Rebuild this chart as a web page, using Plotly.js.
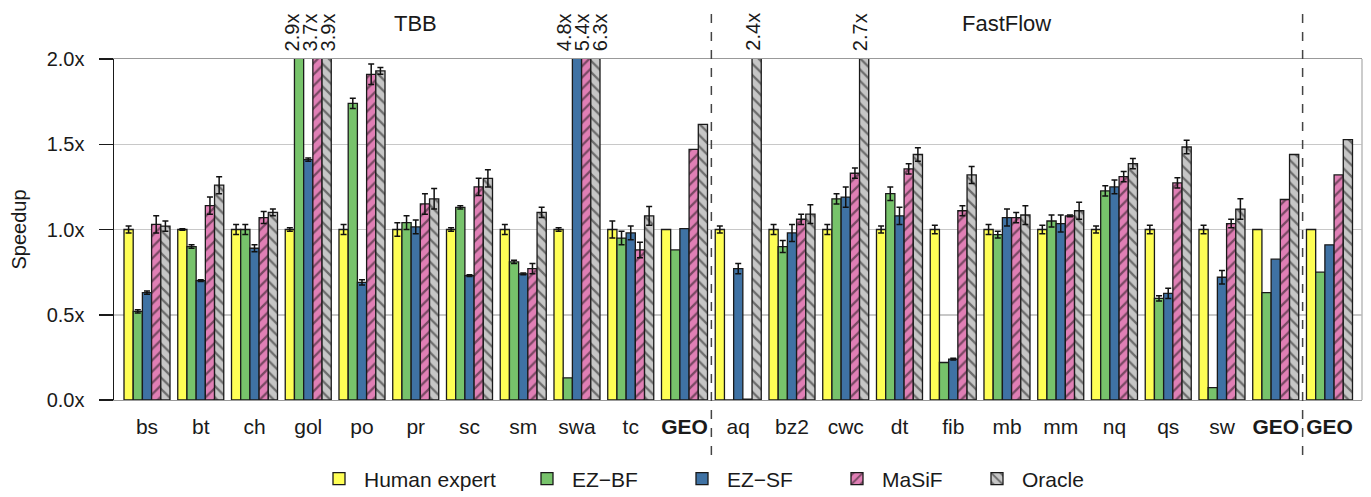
<!DOCTYPE html>
<html>
<head>
<meta charset="utf-8">
<script src="https://cdn.plot.ly/plotly-3.0.1.min.js"></script>
<style>html,body{margin:0;padding:0;background:#fff;}#chart{width:1371px;height:497px;}</style>
</head>
<body>
<div id="chart"></div>
<script>
// ---- data ----
const categories = ['bs','bt','ch','gol','po','pr','sc','sm','swa','tc','GEO','aq','bz2','cwc','dt','fib','mb','mm','nq','qs','sw','GEO','GEO'];
const seriesNames = ['Human expert','EZ\u2212BF','EZ\u2212SF','MaSiF','Oracle'];
const humanExpert = [1,1,1,1,1,1,1,1,1,1,1,1,1,1,1,1,1,1,1,1,1,1,1];
const humanExpertErr = [0.02,0.005,0.03,0.01,0.03,0.04,0.01,0.03,0.01,0.05,NaN,0.02,0.03,0.03,0.02,0.025,0.03,0.025,0.02,0.025,0.025,NaN,NaN];
const ezBF = [0.52,0.90,1.00,2.9,1.74,1.04,1.13,0.81,0.13,0.95,0.88,0.0,0.90,1.18,1.21,0.22,0.97,1.05,1.226,0.596,0.072,0.63,0.75];
const ezBFErr = [0.01,0.01,0.03,NaN,0.03,0.04,0.01,0.01,NaN,0.04,NaN,NaN,0.035,0.03,0.04,NaN,0.02,0.035,0.03,0.015,NaN,NaN,NaN];
const ezSF = [0.63,0.70,0.89,1.41,0.69,1.015,0.73,0.74,4.8,0.98,1.005,0.77,0.98,1.19,1.08,0.24,1.07,1.035,1.25,0.625,0.72,0.826,0.91];
const ezSFErr = [0.01,0.005,0.02,0.01,0.015,0.04,0.005,0.005,NaN,0.04,NaN,0.03,0.05,0.06,0.05,0.005,0.05,0.05,0.04,0.03,0.04,NaN,NaN];
const masif = [1.03,1.14,1.07,3.7,1.91,1.15,1.25,0.77,5.4,0.88,1.47,0.005,1.06,1.33,1.355,1.11,1.07,1.08,1.31,1.273,1.035,1.176,1.32];
const masifErr = [0.05,0.05,0.035,NaN,0.06,0.06,0.05,0.03,NaN,0.045,NaN,NaN,0.03,0.03,0.03,0.03,0.03,0.005,0.03,0.03,0.025,NaN,NaN];
const oracle = [1.02,1.26,1.10,3.9,1.93,1.18,1.30,1.10,6.3,1.08,1.617,2.4,1.09,2.7,1.44,1.32,1.085,1.11,1.386,1.484,1.12,1.44,1.527];
const oracleErr = [0.03,0.05,0.02,NaN,0.02,0.06,0.05,0.03,NaN,0.055,NaN,NaN,0.055,NaN,0.04,0.05,0.055,0.05,0.03,0.04,0.06,NaN,NaN];
const yTickVals = [0,0.5,1,1.5,2];
const yTickText = ['0.0x','0.5x','1.0x','1.5x','2.0x'];
const sectionLabels = ['TBB','FastFlow'];

// ---- styling ----
const FONT = 'Liberation Sans, Arial, Helvetica, sans-serif';
const colors = ['#ffff55','#77c36b','#3f72a4','#e07fb5','#c6c6c6'];
const patterns = ['', '', '', '/', '\\'];
const values = [humanExpert, ezBF, ezSF, masif, oracle];
const errs = [humanExpertErr, ezBFErr, ezSFErr, masifErr, oracleErr];
const BARGAP = 0.144;
const YMAX = 2;
const XRANGE = [-0.614, 22.605];
const ML = 114, MR = 9, W = 1371, H = 497;
const PLOTW = W - ML - MR;
const pxPerUnit = PLOTW / (XRANGE[1] - XRANGE[0]);
const legendSymbolPx = [337, 545, 700, 855, 995];
const legendNames = ['legend', 'legend2', 'legend3', 'legend4', 'legend5'];

const xIdx = categories.map((_, i) => i);
const traces = values.map((v, k) => ({
  type: 'bar',
  name: seriesNames[k],
  legend: legendNames[k],
  x: xIdx,
  y: v,
  marker: {
    color: colors[k],
    line: {color: '#1a1a1a', width: 1.3},
    pattern: patterns[k] ? {shape: patterns[k], fgcolor: '#111', bgcolor: colors[k], size: 8, solidity: 0.28, fillmode: 'overlay'} : undefined
  },
  error_y: {type: 'data', array: errs[k], visible: true, color: '#111', thickness: 1.5, width: 3},
  hoverinfo: 'skip'
}));

// labels for bars beyond axis max (spread apart when several in one group)
const w = (1 - BARGAP) / values.length;
const annotations = [];
categories.forEach((c, i) => {
  const over = [];
  values.forEach((v, k) => { if (v[i] > YMAX) over.push(k); });
  if (!over.length) return;
  const barX = over.map(k => i + (k - (values.length - 1) / 2) * w);
  const meanX = barX.reduce((a, b) => a + b, 0) / barX.length;
  over.forEach((k, j) => {
    const targetShiftPx = (meanX - barX[j]) * pxPerUnit + (j - (over.length - 1) / 2) * 18 - 4;
    annotations.push({
      x: barX[j], y: YMAX, xref: 'x', yref: 'y',
      text: values[k][i].toFixed(1) + 'x', showarrow: false, textangle: -90,
      xanchor: 'center', yanchor: 'bottom', yshift: 6, xshift: targetShiftPx,
      font: {family: FONT, size: 20, color: '#1a1a1a'}
    });
  });
});
annotations.push({x: 5, y: 1.103, xref: 'x', yref: 'paper', text: sectionLabels[0], showarrow: false,
  font: {family: FONT, size: 22, color: '#1a1a1a'}, xanchor: 'center', yanchor: 'middle'});
annotations.push({x: 16, y: 1.103, xref: 'x', yref: 'paper', text: sectionLabels[1], showarrow: false,
  font: {family: FONT, size: 22, color: '#1a1a1a'}, xanchor: 'center', yanchor: 'middle'});

const shapes = [
  {type: 'line', xref: 'x', yref: 'paper', x0: 10.5, x1: 10.5, y0: -0.161, y1: 1.157, line: {color: '#444', width: 1.5, dash: 'dash'}},
  {type: 'line', xref: 'x', yref: 'paper', x0: 21.5, x1: 21.5, y0: -0.161, y1: 1.157, line: {color: '#444', width: 1.5, dash: 'dash'}},
  {type: 'line', xref: 'paper', yref: 'paper', x0: 1, x1: 1, y0: 0, y1: 1, line: {color: '#bbbbbb', width: 1.5}}
];

const layout = {
  width: W, height: H,
  margin: {l: ML, r: MR, t: 59, b: 97, autoexpand: false},
  paper_bgcolor: '#fff', plot_bgcolor: '#fff',
  font: {family: FONT, color: '#1a1a1a'},
  barmode: 'group', bargap: BARGAP, bargroupgap: 0,
  showlegend: true,
  xaxis: {
    type: 'linear', range: XRANGE, tickmode: 'array', tickvals: xIdx,
    ticktext: categories.map(c => c === 'GEO' ? '<b>GEO</b>' : c),
    ticks: '', showgrid: false, zeroline: false, showline: true, linecolor: '#999', linewidth: 1.2, mirror: true,
    tickfont: {family: FONT, size: 21, color: '#1a1a1a'}, ticklabelstandoff: 8, fixedrange: true
  },
  yaxis: {
    range: [0, YMAX], tickmode: 'array', tickvals: yTickVals, ticktext: yTickText,
    ticks: 'outside', ticklen: 14, tickwidth: 1.5, tickcolor: '#1a1a1a',
    showline: true, linecolor: '#1a1a1a', linewidth: 1.5,
    showgrid: true, gridcolor: '#c8c8c8', gridwidth: 1.5, zeroline: false,
    tickfont: {family: FONT, size: 20, color: '#1a1a1a'}, ticklabelstandoff: 10,
    title: {text: 'Speedup', font: {family: FONT, size: 20, color: '#1a1a1a'}, standoff: 14}, fixedrange: true
  },
  annotations: annotations,
  shapes: shapes
};
legendNames.forEach((ln, k) => {
  layout[ln] = {
    orientation: 'h', xref: 'container', yref: 'container',
    x: (legendSymbolPx[k] - 23) / W, xanchor: 'left',
    y: 1 - 479 / H, yanchor: 'middle', itemwidth: 40,
    font: {family: FONT, size: 21, color: '#1a1a1a'}, bgcolor: 'rgba(0,0,0,0)'
  };
});

Plotly.newPlot('chart', traces, layout, {displayModeBar: false, staticPlot: true});
</script>
</body>
</html>
